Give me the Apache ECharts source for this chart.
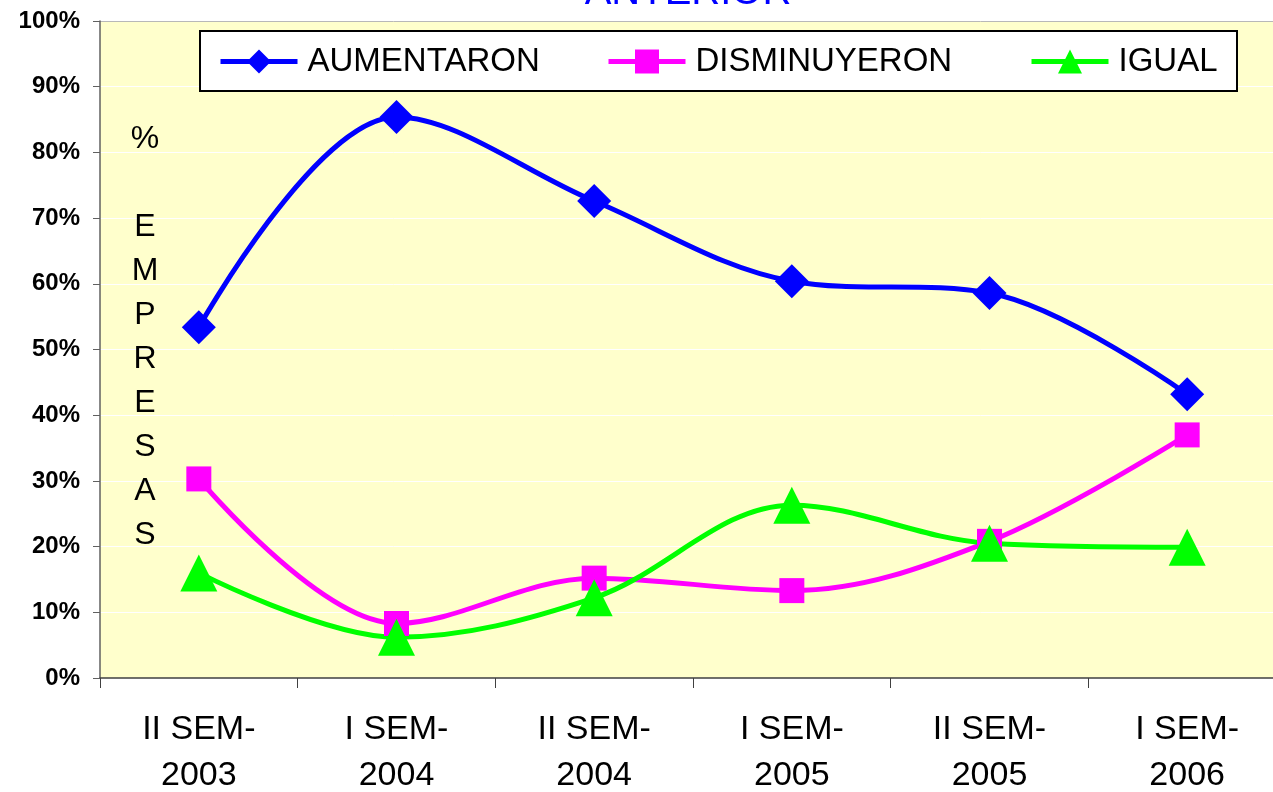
<!DOCTYPE html>
<html>
<head>
<meta charset="utf-8">
<script src="https://cdn.jsdelivr.net/npm/echarts@6/dist/echarts.min.js"></script>
<style>
  html, body { margin: 0; padding: 0; background: #fff; }
  #main { width: 1273px; height: 792px; }
</style>
</head>
<body>
<div id="main"></div>
<script>
var categories = ['II SEM-\n2003', 'I SEM-\n2004', 'II SEM-\n2004', 'I SEM-\n2005', 'II SEM-\n2005', 'I SEM-\n2006'];
var aumentaron = [53.4, 85.4, 72.6, 60.4, 58.6, 43.2];
var disminuyeron = [30.3, 8.3, 15.2, 13.3, 20.8, 37.0];
var igual = [16.0, 6.2, 12.2, 26.3, 20.5, 19.9];
var seriesNames = ['AUMENTARON', 'DISMINUYERON', 'IGUAL'];

var FONT = '"Liberation Sans", Arial, sans-serif';

var chart = echarts.init(document.getElementById('main'));

// gridlines blancas, la de arriba gris
var splitColors = [];
for (var i = 0; i < 10; i++) splitColors.push('#ffffff');
splitColors.push('#b8b8b8');

function legendAt(name, left) {
  return {
    data: [name],
    left: left,
    top: 40,
    itemWidth: 77,
    itemHeight: 30,
    z: 10,
    lineStyle: { width: 5 },
    textStyle: {
      fontFamily: FONT,
      fontSize: 33,
      color: '#000',
      padding: [0, 0, 0, 5]
    }
  };
}

var option = {
  backgroundColor: '#ffffff',
  animation: false,
  grid: {
    left: 100,
    right: -13,
    top: 21,
    bottom: 114,
    outerBoundsMode: 'none',
    containLabel: false,
    show: true,
    backgroundColor: '#FFFFCC',
    borderWidth: 0
  },
  graphic: [
    {
      type: 'text',
      x: 688,
      y: -27,
      style: {
        text: 'ANTERIOR',
        fontFamily: FONT,
        fontSize: 40,
        align: 'center',
        verticalAlign: 'top',
        fill: '#0000FF'
      }
    },
    {
      type: 'rect',
      z: 5,
      shape: { x: 200, y: 31, width: 1037, height: 60 },
      style: { fill: '#ffffff', stroke: '#000000', lineWidth: 2 }
    },
    {
      type: 'text',
      z: 5,
      x: 145,
      y: 117,
      style: {
        text: '%\n\nE\nM\nP\nR\nE\nS\nA\nS',
        fontFamily: FONT,
        fontSize: 32,
        lineHeight: 44,
        align: 'center',
        verticalAlign: 'top',
        fill: '#000'
      }
    }
  ],
  legend: [
    legendAt(seriesNames[0], 213),
    legendAt(seriesNames[1], 601),
    legendAt(seriesNames[2], 1024)
  ],
  xAxis: {
    type: 'category',
    data: categories,
    boundaryGap: true,
    axisLine: { lineStyle: { color: '#404040', width: 1.5 } },
    axisTick: { show: true, length: 10, lineStyle: { color: '#404040' } },
    axisLabel: {
      fontFamily: FONT,
      fontSize: 34,
      color: '#000',
      lineHeight: 46,
      margin: 29
    },
    splitLine: { show: false }
  },
  yAxis: {
    type: 'value',
    min: 0,
    max: 100,
    interval: 10,
    axisLine: { show: true, lineStyle: { color: '#606060', width: 1.5 } },
    axisTick: { show: true, length: 7, lineStyle: { color: '#606060' } },
    axisLabel: {
      formatter: '{value}%',
      fontFamily: FONT,
      fontSize: 24,
      fontWeight: 'bold',
      color: '#000',
      margin: 20
    },
    splitLine: { show: true, lineStyle: { color: splitColors, width: 1 } }
  },
  series: [
    {
      name: seriesNames[0],
      type: 'line',
      data: aumentaron,
      smooth: 0.35,
      symbol: 'diamond',
      symbolSize: 34,
      color: '#0000FF',
      lineStyle: { width: 5, color: '#0000FF' },
      itemStyle: { color: '#0000FF' },
      z: 4
    },
    {
      name: seriesNames[1],
      type: 'line',
      data: disminuyeron,
      smooth: 0.35,
      symbol: 'rect',
      symbolSize: 25,
      color: '#FF00FF',
      lineStyle: { width: 5, color: '#FF00FF' },
      itemStyle: { color: '#FF00FF' },
      z: 3
    },
    {
      name: seriesNames[2],
      type: 'line',
      data: igual,
      smooth: 0.35,
      symbol: 'triangle',
      symbolSize: 37,
      color: '#00FF00',
      lineStyle: { width: 5, color: '#00FF00' },
      itemStyle: { color: '#00FF00' },
      z: 3
    }
  ]
};

chart.setOption(option);
</script>
</body>
</html>
